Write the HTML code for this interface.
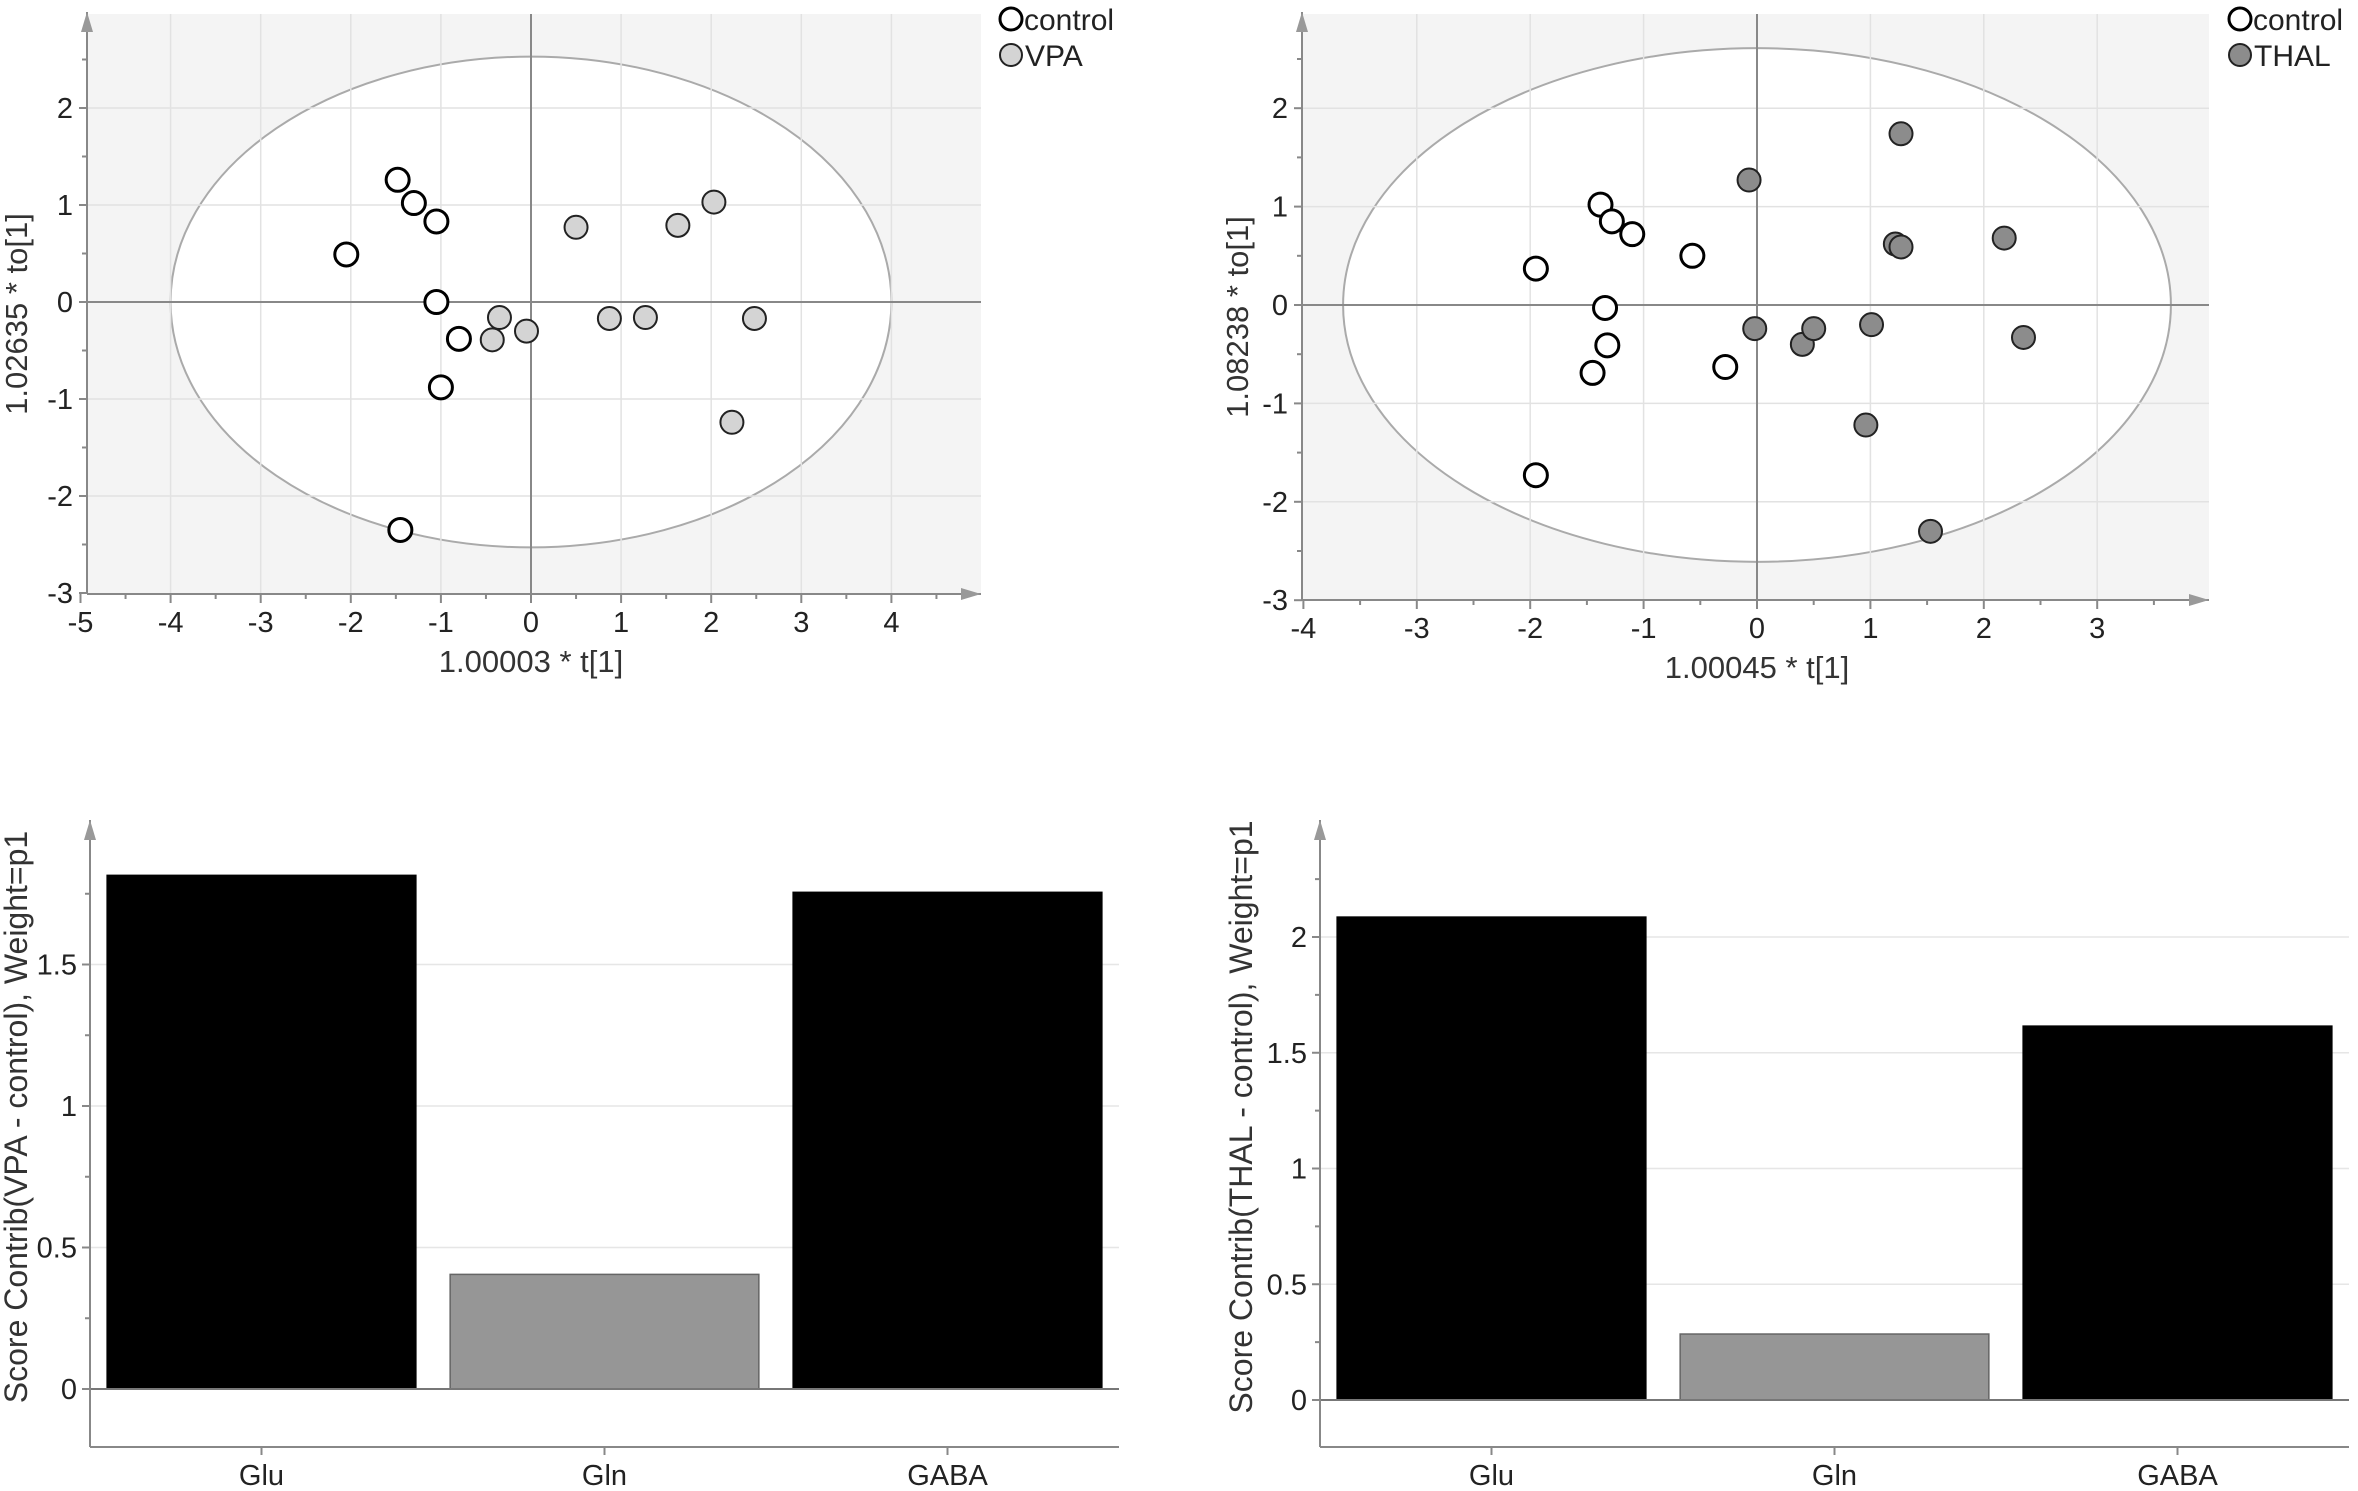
<!DOCTYPE html>
<html><head><meta charset="utf-8"><style>
html,body{margin:0;padding:0;background:#fff}
svg{display:block;font-family:"Liberation Sans",sans-serif}
</style></head><body>
<svg id="c" width="2358" height="1491" viewBox="0 0 2358 1491" xmlns="http://www.w3.org/2000/svg"></svg>
<script>
// ---- Scatter data (VPA) ----
const vpaCtrlX = [-1.48,-1.3,-1.05,-2.05,-1.05,-0.8,-1.0,-1.45];
const vpaCtrlY = [1.26,1.02,0.83,0.49,0.0,-0.38,-0.88,-2.35];
const vpaX = [0.5,1.63,2.03,-0.35,-0.43,-0.05,0.87,1.27,2.48,2.23];
const vpaY = [0.77,0.79,1.03,-0.16,-0.39,-0.3,-0.17,-0.16,-0.17,-1.24];
const vpaXTicks = [-5,-4,-3,-2,-1,0,1,2,3,4];
const vpaYTicks = [-3,-2,-1,0,1,2];
// ---- Scatter data (THAL) ----
const thCtrlX = [-1.95,-1.38,-1.28,-1.1,-0.57,-1.34,-1.32,-1.45,-0.28,-1.95];
const thCtrlY = [0.37,1.02,0.85,0.72,0.5,-0.03,-0.41,-0.69,-0.63,-1.73];
const thX = [-0.07,1.27,1.22,1.27,2.18,-0.02,0.4,0.5,1.01,2.35,0.96,1.53];
const thY = [1.27,1.74,0.62,0.59,0.68,-0.24,-0.4,-0.24,-0.2,-0.33,-1.22,-2.3];
const thXTicks = [-4,-3,-2,-1,0,1,2,3];
const thYTicks = [-3,-2,-1,0,1,2];
// ---- Bar data ----
const barCats = ["Glu","Gln","GABA"];
const vpaBars = [1.815,0.405,1.755];
const thBars = [2.086,0.285,1.615];
const vpaBarTicks = [0,0.5,1,1.5];
const thBarTicks = [0,0.5,1,1.5,2];

const NS="http://www.w3.org/2000/svg";
const svg=document.getElementById('c');
function mk(tag,attrs,parent,text){const e=document.createElementNS(NS,tag);for(const k in attrs)e.setAttribute(k,attrs[k]);if(text!==undefined)e.textContent=text;(parent||svg).appendChild(e);return e;}

function scatter(o){
  const g=mk('g',{});
  
  
  const X=v=>o.x0+o.kx*v, Y=v=>o.y0-o.ky*v;
  const L=o.axisX, B=o.axisY, R=o.right, T=o.top;
  const bg=mk('rect',{x:L,y:T,width:R-L,height:B-T,fill:'#f4f4f4'},g);
  
  const el=mk('ellipse',{cx:X(0),cy:Y(0),rx:o.kx*o.erx,ry:o.ky*o.ery,fill:'#fff',stroke:'#aaa','stroke-width':2},g);
  
  o.xt.forEach(v=>{if(v!==0&&X(v)>L+2)mk('line',{x1:X(v),x2:X(v),y1:T,y2:B,stroke:'#e2e2e2','stroke-width':1.5},g);});
  o.yt.forEach(v=>{if(v!==0&&Y(v)<B-2)mk('line',{x1:L,x2:R,y1:Y(v),y2:Y(v),stroke:'#e2e2e2','stroke-width':1.5},g);});
  mk('line',{x1:X(0),x2:X(0),y1:T,y2:B,stroke:'#888','stroke-width':2},g);
  mk('line',{x1:L,x2:R,y1:Y(0),y2:Y(0),stroke:'#888','stroke-width':2},g);
  mk('line',{x1:L,x2:L,y1:B,y2:T-2,stroke:'#888','stroke-width':2},g);
  mk('polygon',{points:`${L-6},${T+18} ${L+6},${T+18} ${L},${T-2}`,fill:'#999'},g);
  mk('line',{x1:L,x2:R,y1:B,y2:B,stroke:'#888','stroke-width':2},g);
  mk('polygon',{points:`${R-20},${B-6} ${R-20},${B+6} ${R},${B}`,fill:'#999'},g);
  o.xt.forEach(v=>{mk('line',{x1:X(v),x2:X(v),y1:B,y2:B+9,stroke:'#888','stroke-width':2},g);
    if(X(v+0.5)<R-20)mk('line',{x1:X(v+0.5),x2:X(v+0.5),y1:B,y2:B+5,stroke:'#888','stroke-width':2},g);
    const t=mk('text',{x:X(v),y:B+38,'font-size':29,'text-anchor':'middle',fill:'#222'},g,String(v));
    });
  o.yt.forEach(v=>{mk('line',{x1:L-8,x2:L,y1:Y(v),y2:Y(v),stroke:'#888','stroke-width':2},g);
    if(Y(v+0.5)>T+20)mk('line',{x1:L-5,x2:L,y1:Y(v+0.5),y2:Y(v+0.5),stroke:'#888','stroke-width':2},g);
    const t=mk('text',{x:L-14,y:Y(v)+10,'font-size':29,'text-anchor':'end',fill:'#222'},g,String(v));
    });
  const xl=mk('text',{x:X(0)+o.xlOff,y:B+78,'font-size':31,'text-anchor':'middle',fill:'#333'},g,o.xlabel);
  
  const yl=mk('text',{x:0,y:0,'font-size':31,'text-anchor':'middle',fill:'#333',transform:`translate(${o.ylx},${(T+B)/2+10}) rotate(-90)`},g,o.ylabel);
  
  o.cx.forEach((v,i)=>{const c=mk('circle',{cx:X(v),cy:Y(o.cy[i]),r:11.5,fill:'#fff',stroke:'#000','stroke-width':3},g);
    });
  o.tx.forEach((v,i)=>{const c=mk('circle',{cx:X(v),cy:Y(o.ty[i]),r:11.5,fill:o.fill,stroke:'#222','stroke-width':2},g);
    });
  const lg=mk('g',{},g);
  
  mk('circle',{cx:o.lx,cy:19,r:11,fill:'#fff',stroke:'#000','stroke-width':3},lg);
  mk('text',{x:o.lx+13,y:30,'font-size':30,fill:'#222'},lg,'control');
  mk('circle',{cx:o.lx,cy:55,r:11,fill:o.fill,stroke:'#222','stroke-width':2},lg);
  mk('text',{x:o.lx+14,y:66,'font-size':30,fill:'#222'},lg,o.grp);
}

scatter({name:'vpa-score-plot',x0:531,kx:90.1,y0:302,ky:97,axisX:87,axisY:594,right:981,top:14,
  erx:4,ery:2.53,xt:vpaXTicks,yt:vpaYTicks,cx:vpaCtrlX,cy:vpaCtrlY,tx:vpaX,ty:vpaY,fill:'#d4d4d4',grp:'VPA',
  xlabel:'1.00003 * t[1]',ylabel:'1.02635 * to[1]',ylx:27,xlOff:0,lx:1011});
scatter({name:'thal-score-plot',x0:1757,kx:113.4,y0:305,ky:98.4,axisX:1302,axisY:600,right:2209,top:14,
  erx:3.65,ery:2.61,xt:thXTicks,yt:thYTicks,cx:thCtrlX,cy:thCtrlY,tx:thX,ty:thY,fill:'#8c8c8c',grp:'THAL',
  xlabel:'1.00045 * t[1]',ylabel:'1.08238 * to[1]',ylx:1248,xlOff:0,lx:2240});

function bars(o){
  const g=mk('g',{});
  
  
  const Y=v=>o.y0-o.ky*v, band=o.band, L=o.axisX, B=o.axisY;
  const R=L+band*o.cats.length;
  o.ticks.forEach(v=>{if(v>0)mk('line',{x1:L,x2:R,y1:Y(v),y2:Y(v),stroke:'#e6e6e6','stroke-width':1.5},g);});
  o.vals.forEach((v,i)=>{const x=L+band*i+band*0.05;
    const r=mk('rect',{x:x,y:Y(v),width:band*0.9,height:Y(0)-Y(v),fill:i===1?'#969696':'#000',stroke:i===1?'#666':'#000','stroke-width':1.5},g);
    });
  mk('line',{x1:L,x2:R,y1:Y(0),y2:Y(0),stroke:'#777','stroke-width':2},g);
  mk('line',{x1:L,x2:L,y1:B,y2:o.top,stroke:'#888','stroke-width':2},g);
  mk('polygon',{points:`${L-6},${o.top+20} ${L+6},${o.top+20} ${L},${o.top}`,fill:'#999'},g);
  mk('line',{x1:L,x2:R,y1:B,y2:B,stroke:'#888','stroke-width':2},g);
  o.ticks.forEach(v=>{mk('line',{x1:L-8,x2:L,y1:Y(v),y2:Y(v),stroke:'#888','stroke-width':2},g);
    mk('line',{x1:L-5,x2:L,y1:Y(v+0.25),y2:Y(v+0.25),stroke:'#888','stroke-width':2},g);
    const t=mk('text',{x:L-13,y:Y(v)+10,'font-size':29,'text-anchor':'end',fill:'#222'},g,String(v));
    });
  o.cats.forEach((c,i)=>{const cx=L+band*(i+0.5);
    mk('line',{x1:cx,x2:cx,y1:B,y2:B+8,stroke:'#888','stroke-width':2},g);
    const t=mk('text',{x:cx,y:B+38,'font-size':29,'text-anchor':'middle',fill:'#222'},g,c);
    });
  const yl=mk('text',{x:0,y:0,'font-size':32,'text-anchor':'middle',fill:'#333',transform:`translate(${o.ylx},${o.ylc}) rotate(-90)`},g,o.ylabel);
  
}
bars({name:'vpa-contribution-chart',cats:barCats,vals:vpaBars,ticks:vpaBarTicks,y0:1389,ky:283,axisX:90,axisY:1447,band:343,top:820,
  ylabel:'Score Contrib(VPA - control), Weight=p1',ylx:27,ylc:1117});
bars({name:'thal-contribution-chart',cats:barCats,vals:thBars,ticks:thBarTicks,y0:1400,ky:231.5,axisX:1320,axisY:1447,band:343,top:820,
  ylabel:'Score Contrib(THAL - control), Weight=p1',ylx:1252,ylc:1117});
</script>
</body></html>
